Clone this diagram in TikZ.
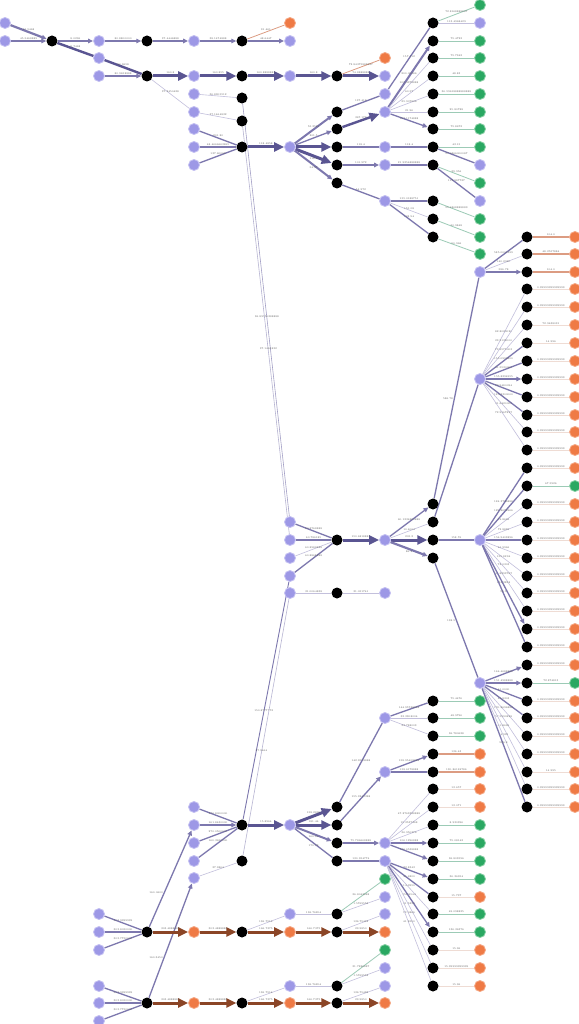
\documentclass[tikz,border=0pt]{standalone}
\usepackage{fontspec}
\usetikzlibrary{arrows.meta,backgrounds}
\definecolor{nP}{HTML}{9D98E6}
\definecolor{nPd}{HTML}{C4C0F2}
\definecolor{nO}{HTML}{EF7A45}
\definecolor{nOd}{HTML}{F5A986}
\definecolor{nG}{HTML}{2AA862}
\definecolor{nGd}{HTML}{86CFA3}
\definecolor{ecT}{HTML}{C3C0DC}
\definecolor{ecM}{HTML}{7D78AE}
\definecolor{ecK}{HTML}{5A5592}
\definecolor{bc}{HTML}{8B4526}
\definecolor{geC}{HTML}{9CCBB6}
\definecolor{oeC}{HTML}{DC9C82}
\definecolor{feC}{HTML}{EFDCD4}
\definecolor{labC}{HTML}{606060}
\begin{document}
\begin{tikzpicture}[x=1pt,y=-1pt,
 pnode/.style={circle,fill=nP,draw=nPd,line width=.8pt,minimum size=11pt,inner sep=0pt},
 bnode/.style={circle,fill=black,minimum size=11pt,inner sep=0pt},
 onode/.style={circle,fill=nO,draw=nOd,line width=.8pt,minimum size=11pt,inner sep=0pt},
 gnode/.style={circle,fill=nG,draw=nGd,line width=.8pt,minimum size=11pt,inner sep=0pt},
 lab/.style={font=\fontsize{2.6}{3}\selectfont,text=labC,above,inner sep=.6pt,pos=.5},
 th/.style={draw=ecT,line width=.6pt},
 md/.style={draw=ecM,line width=1.3pt},
 mda/.style={md,-{Triangle[length=5pt,width=4.5pt]}},
 tk/.style={draw=ecK,line width=3pt,-{Triangle[length=10pt,width=9pt]}},
 tkn/.style={draw=ecK,line width=2.4pt},
 br/.style={draw=bc,line width=3pt,-{Triangle[length=10pt,width=9pt]}},
 ge/.style={draw=geC,line width=.8pt},
 oe/.style={draw=oeC,line width=.8pt},
 oem/.style={draw=oeC,line width=1.3pt},
 fe/.style={draw=feC,line width=.5pt},
]
\useasboundingbox (0,0) rectangle (578,1024);
% ---------------- nodes: top group
\node[pnode] (a0y23) at (5,23) {};
\node[pnode] (a0y41) at (5,41) {};
\node[bnode] (a1y41) at (52,41) {};
\foreach \y in {41,58,76} \node[pnode] (a2y\y) at (99,\y) {};
\foreach \y in {41,76} \node[bnode] (a3y\y) at (147,\y) {};
\foreach \y in {41,76,94,112,129,147,165} \node[pnode] (a4y\y) at (194,\y) {};
\foreach \y in {41,76,98,121,147} \node[bnode] (a5y\y) at (242,\y) {};
\node[onode] (a6y23) at (290,23) {};
\foreach \y in {41,76,147} \node[pnode] (a6y\y) at (290,\y) {};
\foreach \y in {76,112,129,147,165,183} \node[bnode] (a7y\y) at (337,\y) {};
\node[onode] (a8y58) at (385,58) {};
\foreach \y in {76,94,112,147,165,201} \node[pnode] (a8y\y) at (385,\y) {};
\foreach \y in {23,41,58,76,94,112,129,147,165,201,219,237} \node[bnode] (a9y\y) at (433,\y) {};
\foreach \y in {5,41,58,76,94,112,129,147,183,219,237,254} \node[gnode] (a10y\y) at (480,\y) {};
\foreach \y in {23,165,201} \node[pnode] (a10y\y) at (480,\y) {};
% ---------------- right columns
\foreach \y in {272,379,540,683} \node[pnode] (a10y\y) at (480,\y) {};
\foreach \y in {237,254,272,289,307,325,343,361,379,397,415,432,450,468,486,504,522,540,558,576,593,611,629,647,665,683,701,718,736,754,772,789,807}
  \node[bnode] (a11y\y) at (527,\y) {};
\foreach \y in {237,254,272,289,307,325,343,361,379,397,415,432,450,468,504,522,540,558,576,593,611,629,647,665,701,718,736,754,772,789,807}
  \node[onode] (a12y\y) at (575,\y) {};
\foreach \y in {486,683} \node[gnode] (a12y\y) at (575,\y) {};
% ---------------- middle group
\foreach \y in {522,540,558,576,593} \node[pnode] (a6y\y) at (290,\y) {};
\foreach \y in {540,593} \node[bnode] (a7y\y) at (337,\y) {};
\foreach \y in {540,593} \node[pnode] (a8y\y) at (385,\y) {};
\foreach \y in {504,522,540,558} \node[bnode] (a9y\y) at (433,\y) {};
% ---------------- bottom group
\foreach \y in {807,825,843,861,878} \node[pnode] (a4y\y) at (194,\y) {};
\foreach \y in {825,861} \node[bnode] (a5y\y) at (242,\y) {};
\node[pnode] (a6y825) at (290,825) {};
\foreach \y in {807,825,843,861} \node[bnode] (a7y\y) at (337,\y) {};
\foreach \y in {718,772,843,861,897,914,968,986} \node[pnode] (a8y\y) at (385,\y) {};
\foreach \y in {879,950} \node[gnode] (a8y\y) at (385,\y) {};
\foreach \y in {932,1003} \node[onode] (a8y\y) at (385,\y) {};
\foreach \y in {701,718,736,754,772,789,807,825,843,861,879,897,914,932,950,968,986} \node[bnode] (a9y\y) at (433,\y) {};
\foreach \y in {701,718,736,825,843,861,879,914,932} \node[gnode] (a10y\y) at (480,\y) {};
\foreach \y in {754,772,789,807,897,950,968,986} \node[onode] (a10y\y) at (480,\y) {};
\foreach \y in {914,932,950,986,1003,1021} \node[pnode] (a2y\y) at (99,\y) {};
\foreach \y in {932,1003} {
  \node[bnode] (a3y\y) at (147,\y) {};
  \node[onode] (a4y\y) at (194,\y) {};
  \node[bnode] (a5y\y) at (242,\y) {};
  \node[onode] (a6y\y) at (290,\y) {};
  \node[bnode] (a7y\y) at (337,\y) {};
}
\foreach \y in {914,986} \node[pnode] (a6y\y) at (290,\y) {};
\foreach \y in {914,986} \node[bnode] (a7y\y) at (337,\y) {};
% ================= edges
\begin{pgfonlayer}{background}
\fill[white] (0,0) rectangle (578,1024);
% top chain
\draw[mda,line width=2.2pt] (a0y23) -- node[lab]{45.5468} (a1y41);
\draw[mda] (a0y41) -- node[lab]{45.5468889} (a1y41);
\draw[mda] (a1y41) -- node[lab]{8.0296} (a2y41);
\draw[tkn] (a1y41) -- node[lab]{8.7468} (a2y58);
\draw[mda] (a2y41) -- node[lab]{80.8800000} (a3y41);
\draw[mda] (a3y41) -- node[lab]{37.4446888} (a4y41);
\draw[mda] (a4y41) -- node[lab]{38.1474888} (a5y41);
\draw[mda] (a5y41) -- node[lab]{48.6447} (a6y41);
\draw[oe] (a5y41) -- node[lab]{91.461} (a6y23);
\draw[tkn] (a2y58) -- node[lab]{80.9658} (a3y76);
\draw[mda] (a2y76) -- node[lab]{80.9658888} (a3y76);
\draw[tk] (a3y76) -- node[lab]{160.8} (a4y76);
\draw[tk] (a4y76) -- node[lab]{160.855} (a5y76);
\draw[tk] (a5y76) -- node[lab]{160.8888888} (a6y76);
\draw[tk] (a6y76) -- node[lab]{160.8} (a7y76);
\draw[tk] (a7y76) -- node[lab]{74.8888888} (a8y76);
\draw[oe] (a7y76) -- node[lab]{72.84375888887} (a8y58);
\draw[th] (a3y76) -- node[lab]{37.2450428} (a4y112);
\draw[th] (a4y94) -- node[lab]{36.8905512} (a5y98);
\draw[th] (a4y112) -- node[lab]{37.1464832} (a5y121);
\draw[md] (a4y129) -- node[lab]{201.80} (a5y147);
\draw[md] (a4y147) -- node[lab]{48.4666663265} (a5y147);
\draw[md] (a4y165) -- node[lab]{137.60002} (a5y147);
\draw[tk] (a5y147) -- node[lab]{118.4858} (a6y147);
\draw[mda,line width=2pt] (a6y147) -- node[lab]{55.2588} (a7y112);
\draw[mda] (a6y147) -- node[lab]{201.5} (a7y129);
\draw[tk] (a6y147) -- (a7y147);
\draw[tk] (a6y147) -- node[lab,below]{118.4} (a7y165);
\draw[mda,line width=2pt] (a6y147) -- node[lab,below]{54.97} (a7y183);
\draw[md] (a7y112) -- node[lab]{137.412} (a8y94);
\draw[tk,line width=2.4pt] (a7y129) -- node[lab]{367.172} (a8y112);
\draw[md] (a7y147) -- node[lab]{118.4} (a8y147);
\draw[mda] (a7y165) -- node[lab]{101.972} (a8y165);
\draw[md] (a7y183) -- node[lab]{54.972} (a8y201);
\draw[md] (a8y94) -- node[lab]{157.412} (a9y23);
\draw[mda,line width=2pt] (a8y112) -- node[lab]{200.00286} (a9y41);
\draw[th] (a8y112) -- node[lab]{103.4378888} (a9y58);
\draw[th] (a8y112) -- node[lab]{60.57} (a9y76);
\draw[th] (a8y112) -- node[lab]{25.907826} (a9y94);
\draw[th] (a8y112) -- node[lab]{21.96} (a9y112);
\draw[mda] (a8y112) -- node[lab]{187.1174888} (a9y129);
\draw[ge] (a9y23) -- node[lab]{72.8168888887} (a10y5);
\draw[th] (a9y23) -- node[lab]{113.4968429} (a10y23);
\foreach \y/\lbl in {41/75.4722,58/75.7342,76/48.83,94/36.59618888888888,112/25.80788,129/75.8672}
  \draw[ge] (a9y\y) -- node[lab]{\lbl} (a10y\y);
\draw[md] (a8y147) -- node[lab]{118.4} (a9y147);
\draw[ge] (a9y147) -- node[lab]{43.15} (a10y147);
\draw[md] (a9y147) -- node[lab]{57.4266000087} (a10y165);
\draw[md] (a8y165) -- node[lab]{21.9254888888} (a9y165);
\draw[ge] (a9y165) -- node[lab]{39.956} (a10y183);
\draw[md] (a9y165) -- node[lab]{113.987727} (a10y201);
\draw[md] (a8y201) -- node[lab]{155.0188751} (a9y201);
\draw[th] (a8y201) -- node[lab]{155.08} (a9y219);
\draw[md] (a8y201) -- node[lab]{102.94} (a9y237);
\draw[ge] (a9y201) -- node[lab]{50.4268888889} (a10y219);
\draw[ge] (a9y219) -- node[lab]{50.9848} (a10y237);
\draw[ge] (a9y237) -- node[lab]{50.966} (a10y254);
% long lines
\draw[th,draw=ecM!70] (a5y98) -- node[lab,pos=.52]{36.89550288888} (a6y522);
\draw[th,draw=ecM!55] (a5y121) -- node[lab,pos=.55]{37.1464832} (a6y540);
\draw[md,line width=.9pt] (a6y576) -- node[lab,pos=.55]{150.8777772} (a5y825);
\draw[th,draw=ecM!55] (a6y593) -- node[lab,pos=.6]{37.9464} (a5y861);
% middle
\draw[md] (a6y522) -- node[lab]{60.8768888} (a7y540);
\draw[md] (a6y540) -- node[lab]{60.786185} (a7y540);
\draw[th] (a6y558) -- node[lab]{60.8988888} (a7y540);
\draw[md] (a6y576) -- node[lab]{60.8868888} (a7y540);
\draw[tk] (a7y540) -- node[lab]{150.6818888} (a8y540);
\draw[th] (a6y593) -- node[lab]{31.0064838} (a7y593);
\draw[th] (a7y593) -- node[lab]{31.051741} (a8y593);
\draw[mda] (a8y540) -- node[lab]{60.1234880888} (a9y504);
\draw[th] (a8y540) -- node[lab]{10.4004} (a9y522);
\draw[tk] (a8y540) -- node[lab]{205.2} (a9y540);
\draw[mda,line width=2.2pt] (a8y540) -- node[lab,below]{86.8} (a9y558);
\draw[md] (a9y504) -- node[lab,pos=.45,left]{586.78} (a10y272);
\draw[md] (a9y522) -- node[lab,pos=.1,left]{586.30} (a10y379);
\draw[md] (a9y540) -- node[lab]{158.76} (a10y540);
\draw[md] (a9y558) -- node[lab,left]{138.5} (a10y683);
% right fans
\draw[md] (a10y272) -- node[lab]{585.0001999} (a11y237);
\draw[th] (a10y272) -- node[lab]{140.2920} (a11y254);
\draw[mda] (a10y272) -- node[lab]{586.78} (a11y272);
\foreach \y/\lbl/\sty in {289/82.8020026/th,307/23.9133000/th,325/73.9575003/th,343/155.0993800/md,361/41.5530000/md,379/155.8294955/mda,397/72.9480094/md,415/125.8300000/md,432/41.6420000/th,450/72.9167837/th}
  \draw[\sty] (a10y379) -- node[lab]{\lbl} (a11y\y);
\foreach \y/\lbl/\sty in {468/124.3796888/md,486/129.8672966/md,504/14.8696/th,522/72.8839/th,540/154.9403896/md,558/41.9966/th,576/155.8294/th,593/72.0303/th,611/41.8293767/th,629/124.3898/mda,647/56.5/md}
  \draw[\sty] (a10y540) -- node[lab]{\lbl} (a11y\y);
\foreach \y/\lbl/\sty in {665/164.4688888/mda,683/151.4988888/mda,701/41.0000/md,718/41.8303/md,736/120.8696888/th,754/57.5990888/th,772/41.8696/th,789/14.995/th,807/586.8/md}
  \draw[\sty] (a10y683) -- node[lab]{\lbl} (a11y\y);
\foreach \y/\lbl/\sty in {237/104.0/oem,254/48.2557884/oem,272/104.0/oem,289/0.99999999999999/fe,307/0.99999999999999/fe,325/72.9438031/fe,343/14.996/fe,361/0.99999999999999/fe,379/0.99999999999999/fe,397/0.99999999999999/fe,415/0.99999999999999/fe,432/0.99999999999999/fe,450/0.99999999999999/fe,468/0.99999999999999/fe,486/67.5926/ge,504/0.99999999999999/fe,522/0.99999999999999/fe,540/0.99999999999999/fe,558/0.99999999999999/fe,576/0.99999999999999/fe,593/0.99999999999999/fe,611/0.99999999999999/fe,629/0.99999999999999/fe,647/0.99999999999999/fe,665/0.99999999999999/fe,683/72.874813/ge,701/0.99999999999999/fe,718/0.99999999999999/fe,736/0.99999999999999/fe,754/0.99999999999999/fe,772/14.995/fe,789/0.99999999999999/fe,807/0.99999999999999/fe}
  \draw[\sty] (a11y\y) -- node[lab]{\lbl} (a12y\y);
% bottom
\draw[md] (a4y807) -- node[lab]{270.8000000} (a5y825);
\draw[mda] (a4y825) -- node[lab]{161.8430000} (a5y825);
\draw[md] (a4y843) -- node[lab]{270.0500000} (a5y825);
\draw[md] (a4y861) -- node[lab]{160.3650000} (a5y825);
\draw[th] (a4y878) -- node[lab]{37.9864} (a5y861);
\draw[tk] (a5y825) -- node[lab]{15.8964} (a6y825);
\draw[tk] (a6y825) -- node[lab]{158.2890} (a7y807);
\draw[tk] (a6y825) -- node[lab]{181.44} (a7y825);
\draw[mda,line width=2pt] (a6y825) -- node[lab,below]{160.84} (a7y843);
\draw[md] (a6y825) -- node[lab,below]{170.38} (a7y861);
\draw[md] (a7y807) -- node[lab]{142.9578888} (a8y718);
\draw[mda] (a7y825) -- node[lab]{155.9249388} (a8y772);
\draw[mda] (a7y843) -- node[lab]{75.786668888} (a8y843);
\draw[md] (a7y861) -- node[lab]{130.954774} (a8y861);
\draw[md] (a8y718) -- node[lab]{144.95788888} (a9y701);
\draw[th] (a8y718) -- node[lab]{32.3308004} (a9y718);
\draw[th] (a8y718) -- node[lab]{32.788003} (a9y736);
\draw[mda] (a8y772) -- node[lab]{158.95408888} (a9y754);
\draw[md] (a8y772) -- node[lab]{158.6178888} (a9y772);
\foreach \y/\lbl/\sty in {789/47.8763388888/th,807/15.3537368/th,825/36.950376/th,843/106.1296888/mda,861/136.6538888/mda}
  \draw[\sty] (a8y843) -- node[lab]{\lbl} (a9y\y);
\foreach \y/\lbl/\sty in {879/72.8343/mda,897/41.6200/md,914/14.9950/th,932/156.9544/mda,950/41.5299/th,968/72.0866/th,986/41.8500/th}
  \draw[\sty] (a8y861) -- node[lab]{\lbl} (a9y\y);
\foreach \y/\lbl/\sty in {701/75.4476/ge,718/48.9796/ge,736/36.780628/ge,754/136.43/oem,772/130.86124786/oem,789/13.657/fe,807/13.071/fe,825/8.930396/ge,843/75.08142/ge,861/36.803596/ge,879/36.36954/ge,897/15.737/fe,914/49.098825/ge,932/136.36376/ge,950/15.96/fe,968/15.99999999999/fe,986/15.96/fe}
  \draw[\sty] (a9y\y) -- node[lab]{\lbl} (a10y\y);
% brown chains
\draw[md] (a2y914) -- node[lab]{303.9999999} (a3y932);
\draw[md] (a2y932) -- node[lab]{303.8050000} (a3y932);
\draw[md] (a2y950) -- node[lab]{303.7750000} (a3y932);
\draw[md] (a2y986) -- node[lab]{303.9999999} (a3y1003);
\draw[md] (a2y1003) -- node[lab]{303.8050000} (a3y1003);
\draw[md] (a2y1021) -- node[lab]{303.7750000} (a3y1003);
\draw[mda] (a3y932) -- node[lab,pos=.35,left]{160.0600} (a4y825);
\draw[mda] (a3y1003) -- node[lab,pos=.35,left]{160.3450} (a4y878);
\foreach \y in {932,1003} {
  \draw[br] (a3y\y) -- node[lab]{303.4888888} (a4y\y);
  \draw[br] (a4y\y) -- node[lab]{303.4888888} (a5y\y);
  \draw[br] (a5y\y) -- node[lab]{166.7375} (a6y\y);
  \draw[br] (a6y\y) -- node[lab]{166.7375} (a7y\y);
  \draw[br] (a7y\y) -- node[lab]{29.9850} (a8y\y);
}
\draw[th] (a5y932) -- node[lab]{136.7514} (a6y914);
\draw[th] (a6y914) -- node[lab]{136.76204} (a7y914);
\draw[th] (a7y914) -- node[lab]{1.5769558} (a8y897);
\draw[ge] (a7y914) -- node[lab]{36.8043888} (a8y879);
\draw[th] (a7y932) -- node[lab]{136.75432} (a8y914);
\draw[th] (a5y1003) -- node[lab]{136.7514} (a6y986);
\draw[th] (a6y986) -- node[lab]{136.76204} (a7y986);
\draw[th] (a7y986) -- node[lab]{1.5769558} (a8y968);
\draw[ge] (a7y986) -- node[lab]{31.7826887} (a8y950);
\draw[th] (a7y1003) -- node[lab]{136.75432} (a8y986);
\end{pgfonlayer}
\end{tikzpicture}
\end{document}
